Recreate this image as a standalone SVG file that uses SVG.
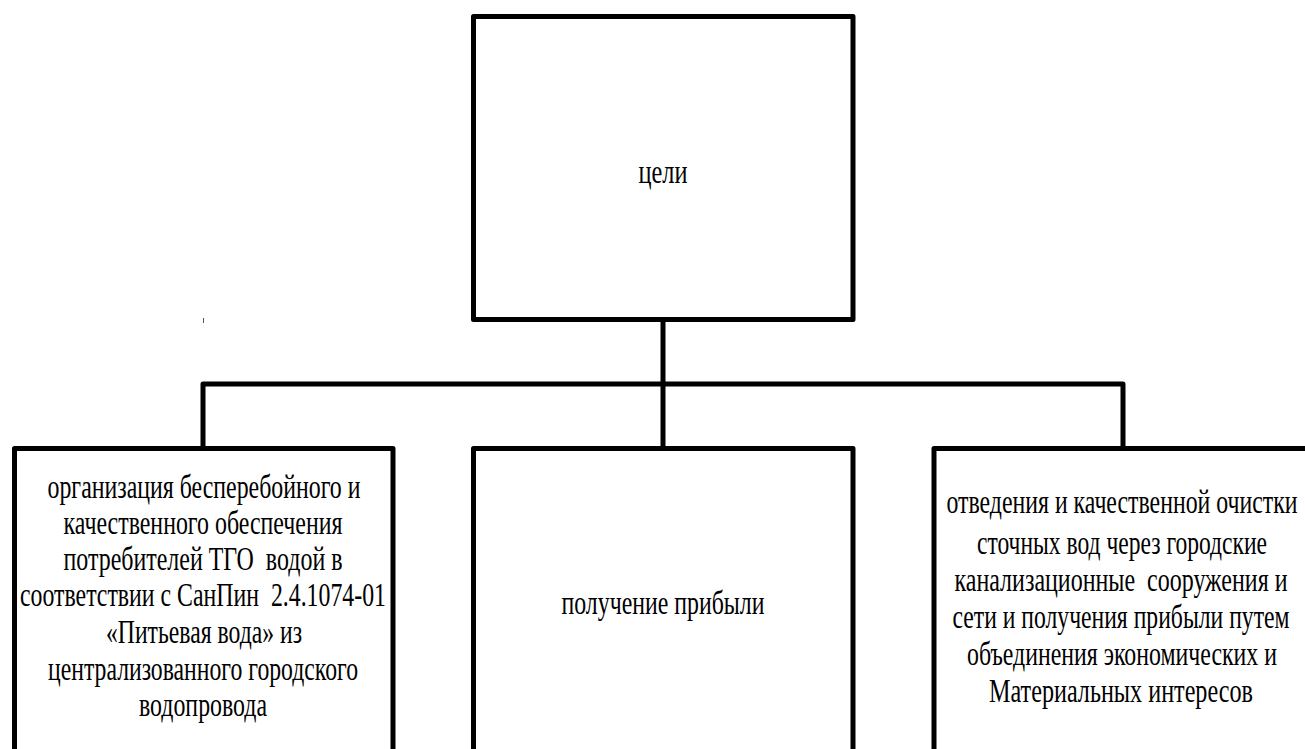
<svg xmlns="http://www.w3.org/2000/svg" width="1305" height="749" viewBox="0 0 1305 749">
  <style>
    .box { fill: #ffffff; stroke: #000000; stroke-width: 5; stroke-linejoin: round; }
    .conn { fill: none; stroke: #000000; stroke-width: 5; stroke-linejoin: round; }
    .t { font-family: "Liberation Serif", "Times New Roman", serif; font-size: 34px; fill: #000000; text-anchor: middle; white-space: pre; }
  </style>
  <rect width="1305" height="749" fill="#ffffff"/>
  <g id="connectors">
    <line class="conn" x1="663" y1="320" x2="663" y2="448"/>
    <polyline class="conn" points="203,448 203,384 1123,384 1123,448"/>
    <line x1="203.5" y1="318" x2="203.5" y2="323" stroke="#555555" stroke-width="1"/>
  </g>
  <g id="node-goals">
    <rect class="box" x="473.5" y="16.5" width="379.5" height="303"/>
    <text class="t" x="663" y="183" textLength="49" lengthAdjust="spacingAndGlyphs">цели</text>
  </g>
  <g id="node-water">
    <rect class="box" x="14.5" y="448.5" width="378.5" height="320"/>
    <text class="t" x="204" y="498" textLength="313" lengthAdjust="spacingAndGlyphs">организация бесперебойного и</text>
    <text class="t" x="203" y="534" textLength="279" lengthAdjust="spacingAndGlyphs">качественного обеспечения</text>
    <text class="t" x="203" y="570" textLength="279" lengthAdjust="spacingAndGlyphs" xml:space="preserve">потребителей ТГО  водой в</text>
    <text class="t" x="203" y="606" textLength="366" lengthAdjust="spacingAndGlyphs" xml:space="preserve">соответствии с СанПин  2.4.1074-01</text>
    <text class="t" x="204" y="643" textLength="196" lengthAdjust="spacingAndGlyphs">«Питьевая вода» из</text>
    <text class="t" x="203" y="680" textLength="310" lengthAdjust="spacingAndGlyphs">централизованного городского</text>
    <text class="t" x="203" y="716" textLength="128" lengthAdjust="spacingAndGlyphs">водопровода</text>
  </g>
  <g id="node-profit">
    <rect class="box" x="473.5" y="448.5" width="379.5" height="320"/>
    <text class="t" x="663" y="614" textLength="203" lengthAdjust="spacingAndGlyphs">получение прибыли</text>
  </g>
  <g id="node-sewage">
    <rect class="box" x="934" y="448.5" width="380" height="320"/>
    <text class="t" x="1122" y="513" textLength="351" lengthAdjust="spacingAndGlyphs">отведения и качественной очистки</text>
    <text class="t" x="1122" y="554" textLength="290" lengthAdjust="spacingAndGlyphs">сточных вод через городские</text>
    <text class="t" x="1121" y="591" textLength="333" lengthAdjust="spacingAndGlyphs" xml:space="preserve">канализационные  сооружения и</text>
    <text class="t" x="1121" y="628" textLength="337" lengthAdjust="spacingAndGlyphs">сети и получения прибыли путем</text>
    <text class="t" x="1122" y="665" textLength="310" lengthAdjust="spacingAndGlyphs">объединения экономических и</text>
    <text class="t" x="1121" y="702" textLength="264" lengthAdjust="spacingAndGlyphs">Материальных интересов</text>
  </g>
</svg>
